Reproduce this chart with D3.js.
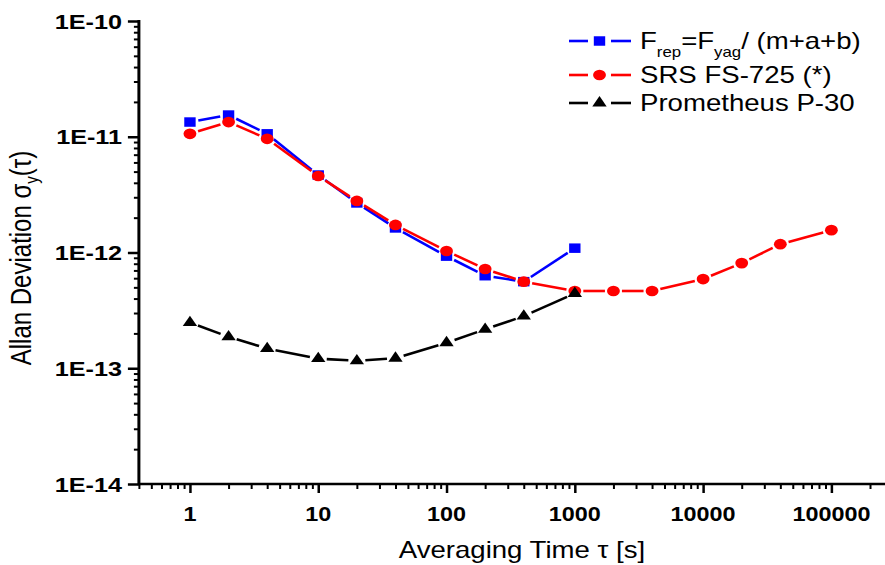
<!DOCTYPE html>
<html>
<head>
<meta charset="utf-8">
<script src="https://cdn.jsdelivr.net/npm/d3@7"></script>
<style>
  html, body { margin: 0; padding: 0; background: #fff; }
  svg { display: block; }
  text { font-family: "Liberation Sans", Arial, sans-serif; fill: #000; }
</style>
</head>
<body>
<svg id="chart" width="885" height="565"></svg>
<script>
// Averaging times (s)
const tauShort = [1, 2, 4, 10, 20, 40, 100, 200, 400, 1000];
const tauLong = [1, 2, 4, 10, 20, 40, 100, 200, 400, 1000, 2000, 4000, 10000, 20000, 40000, 100000];

// Allan deviation values
const frepValues = [1.34e-11, 1.54e-11, 1.06e-11, 4.67e-12, 2.68e-12, 1.63e-12, 9.3e-13, 6.3e-13, 5.6e-13, 1.09e-12];
const srsValues = [1.06e-11, 1.34e-11, 9.6e-12, 4.58e-12, 2.79e-12, 1.73e-12, 1.03e-12, 7.2e-13, 5.6e-13, 4.65e-13, 4.65e-13, 4.65e-13, 5.9e-13, 8.1e-13, 1.18e-12, 1.56e-12];
const promValues = [2.48e-13, 1.87e-13, 1.48e-13, 1.21e-13, 1.16e-13, 1.22e-13, 1.66e-13, 2.17e-13, 2.82e-13, 4.43e-13];

// Axis ticks and labels
const xTickValues = [1, 10, 100, 1000, 10000, 100000];
const xTickLabels = ["1", "10", "100", "1000", "10000", "100000"];
const yTickValues = [1e-14, 1e-13, 1e-12, 1e-11, 1e-10];
const yTickLabels = ["1E-14", "1E-13", "1E-12", "1E-11", "1E-10"];

const SX = 1.2;          // horizontal glyph/marker stretch
const svg = d3.select("#chart");

const x = d3.scaleLog().domain([0.4, 3e5]).range([138.9, 892.6]);
const y = d3.scaleLog().domain([1e-14, 1e-10]).range([484, 21]);
const x0 = x(0.4);

function stext(g, px, py, str, opts = {}) {
  const t = g.append("text")
    .attr("transform", `translate(${px},${py}) scale(${SX},1)`)
    .attr("text-anchor", opts.anchor || "start")
    .attr("font-size", opts.size || 20)
    .attr("font-weight", opts.weight || "normal");
  if (opts.dy) t.attr("dy", opts.dy);
  t.text(str);
  return t;
}

// minor tick values for log axes
function minorTicks(lo, hi) {
  const out = [];
  for (let e = Math.floor(Math.log10(lo)); e <= Math.ceil(Math.log10(hi)); e++) {
    for (let m = 2; m <= 9; m++) {
      const v = m * Math.pow(10, e);
      if (v >= lo && v <= hi) out.push(v);
    }
  }
  return out;
}

// ---- axes ----
const axes = svg.append("g");

// x minor + major ticks
const xMinor = minorTicks(0.4, 3e5);
axes.append("g").attr("transform", `translate(0,484)`)
  .call(d3.axisBottom(x).tickValues(xMinor).tickSize(5).tickFormat(""))
  .call(g => g.select(".domain").remove())
  .call(g => g.selectAll("line").attr("stroke", "#000").attr("stroke-width", 2));
axes.append("g").attr("transform", `translate(0,484)`)
  .call(d3.axisBottom(x).tickValues(xTickValues).tickSize(9).tickFormat(""))
  .call(g => g.select(".domain").remove())
  .call(g => g.selectAll("line").attr("stroke", "#000").attr("stroke-width", 2.5));

// y minor + major ticks
const yMinor = minorTicks(1e-14, 1e-10);
axes.append("g").attr("transform", `translate(${x0},0)`)
  .call(d3.axisLeft(y).tickValues(yMinor).tickSize(5).tickFormat(""))
  .call(g => g.select(".domain").remove())
  .call(g => g.selectAll("line").attr("stroke", "#000").attr("stroke-width", 2));
axes.append("g").attr("transform", `translate(${x0},0)`)
  .call(d3.axisLeft(y).tickValues(yTickValues).tickSize(11).tickFormat(""))
  .call(g => g.select(".domain").remove())
  .call(g => g.selectAll("line").attr("stroke", "#000").attr("stroke-width", 2.5));

// axis lines
axes.append("line").attr("x1", x0).attr("x2", x(3e5)).attr("y1", 484).attr("y2", 484)
  .attr("stroke", "#000").attr("stroke-width", 2.6);
axes.append("line").attr("x1", x0).attr("x2", x0).attr("y1", y(1e-10) - 1).attr("y2", 485.3)
  .attr("stroke", "#000").attr("stroke-width", 3);

// tick labels
xTickValues.forEach((v, i) => stext(axes, x(v), 521, xTickLabels[i], { anchor: "middle", size: 19.5, weight: "bold" }));
yTickValues.forEach((v, i) => stext(axes, 122, y(v), yTickLabels[i], { anchor: "end", size: 21, weight: "bold", dy: "0.36em" }));

// axis titles
stext(axes, 522, 558, "Averaging Time \u03C4 [s]", { anchor: "middle", size: 23 });

const yt = axes.append("text")
  .attr("transform", `translate(31,258) rotate(-90) scale(1,${SX})`)
  .attr("text-anchor", "middle")
  .attr("font-size", 24);
yt.append("tspan").text("Allan Deviation \u03C3");
yt.append("tspan").attr("font-size", 15).attr("dy", 6).text("y");
yt.append("tspan").attr("dy", -6).text("(\u03C4)");

// ---- series ----
const series = [
  { name: "frep", tau: tauShort, values: frepValues, color: "#0000ff", symbol: d3.symbolSquare, size: 90 },
  { name: "srs", tau: tauLong, values: srsValues, color: "#ff0000", symbol: d3.symbolCircle, size: 90 },
  { name: "prom", tau: tauShort, values: promValues, color: "#000000", symbol: d3.symbolTriangle, size: 62 }
];

const GAP = 8.5;
function gappedSegments(pts, gap) {
  const segs = [];
  for (let i = 0; i < pts.length - 1; i++) {
    const [ax, ay] = pts[i], [bx, by] = pts[i + 1];
    const dx = (bx - ax), dy = (by - ay);
    const len = Math.hypot(dx, dy);
    if (len <= 2 * gap) continue;
    const ux = dx / len, uy = dy / len;
    segs.push([ax + ux * gap, ay + uy * gap, bx - ux * gap, by - uy * gap]);
  }
  return segs;
}

const plot = svg.append("g");
series.forEach(s => {
  const pts = s.tau.map((t, i) => [x(t), y(s.values[i])]);
  const g = plot.append("g");
  g.selectAll("line").data(gappedSegments(pts, GAP)).join("line")
    .attr("x1", d => d[0]).attr("y1", d => d[1]).attr("x2", d => d[2]).attr("y2", d => d[3])
    .attr("stroke", s.color).attr("stroke-width", 2.6);
  g.selectAll("path").data(pts).join("path")
    .attr("d", d3.symbol().type(s.symbol).size(s.size)())
    .attr("transform", d => `translate(${d[0]},${d[1]}) scale(${SX},1)`)
    .attr("fill", s.color);
});

// ---- legend ----
const legend = svg.append("g");
const legendRows = [41, 75, 103];
series.forEach((s, i) => {
  const ly = legendRows[i];
  legend.append("line").attr("x1", 569).attr("x2", 588).attr("y1", ly).attr("y2", ly)
    .attr("stroke", s.color).attr("stroke-width", 2.6);
  legend.append("line").attr("x1", 611).attr("x2", 631).attr("y1", ly).attr("y2", ly)
    .attr("stroke", s.color).attr("stroke-width", 2.6);
  legend.append("path").attr("d", d3.symbol().type(s.symbol).size(s.size)())
    .attr("transform", `translate(599.5,${ly}) scale(${SX},1)`).attr("fill", s.color);
});

const l1 = legend.append("text")
  .attr("transform", `translate(640,${legendRows[0] + 8}) scale(${SX},1)`)
  .attr("font-size", 23);
l1.append("tspan").text("F");
l1.append("tspan").attr("font-size", 14).attr("dy", 8).text("rep");
l1.append("tspan").attr("dy", -8).text("=F");
l1.append("tspan").attr("font-size", 14).attr("dy", 8).text("yag");
l1.append("tspan").attr("dy", -8).text("/ (m+a+b)");

stext(legend, 640, legendRows[1] + 8, "SRS FS-725 (*)", { size: 23 });
stext(legend, 640, legendRows[2] + 8, "Prometheus P-30", { size: 23 });
</script>
</body>
</html>
